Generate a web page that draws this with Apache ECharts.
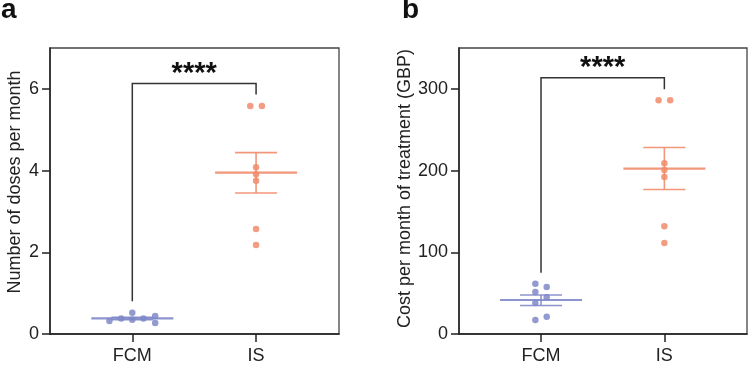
<!DOCTYPE html>
<html>
<head>
<meta charset="utf-8">
<script src="https://cdn.jsdelivr.net/npm/echarts@6/dist/echarts.min.js"></script>
<style>
  html, body { margin: 0; padding: 0; background: #fff; }
  #main { width: 749px; height: 365px; }
</style>
</head>
<body>
<div id="main"></div>
<script>
// groups on the x axis (FCM at 1, IS at 2)
var groups = ['FCM', 'IS'];
var groupColors = ['#7f88c8', '#f08c6c'];

// a: number of doses per month (x = group position incl. jitter)
var dosesFcmX = [0.815, 0.91, 1.0, 1.0, 1.09, 1.185, 1.185];
var dosesFcm  = [0.32, 0.38, 0.52, 0.35, 0.38, 0.44, 0.27];
var dosesIsX  = [1.953, 2.047, 2.0, 2.0, 2.0, 2.0, 2.0];
var dosesIs   = [5.58, 5.58, 4.08, 3.91, 3.75, 2.57, 2.18];
// mean, lower and upper SEM
var dosesMean = [0.38, 3.95];
var dosesLow  = [0.35, 3.45];
var dosesHigh = [0.41, 4.44];

// b: cost per month of treatment (GBP)
var costFcmX = [0.954, 1.046, 0.954, 1.046, 0.954, 0.954, 1.046];
var costFcm  = [61.5, 57.4, 51.3, 44.9, 38, 17, 21];
var costIsX  = [1.953, 2.047, 2.0, 2.0, 2.0, 2.0, 2.0];
var costIs   = [286, 286, 209, 200.6, 192, 132, 111.3];
var costMean = [41.6, 202.4];
var costLow  = [34.8, 176.8];
var costHigh = [47.7, 228.2];

// significance brackets: [x1, x2, top, left end, right end]
var bracketA = [1, 2, 6.13, 0.8, 5.86];
var bracketB = [1, 2, 313.5, 75, 299.4];
var sigText = '****';

var doseTicks = [0, 2, 4, 6];
var costTicks = [0, 100, 200, 300];

var font = "'Liberation Sans', Arial, sans-serif";
var ink = '#222';

function pairs(xs, ys) {
    return ys.map(function (y, i) { return [xs[i], y]; });
}

function statRows(mean, low, high) {
    return mean.map(function (m, i) { return [i + 1, m, low[i], high[i]]; });
}

function renderMeanSem(params, api) {
    var x = api.value(0);
    var c = api.coord([x, api.value(1)]);
    var lo = api.coord([x, api.value(2)]);
    var hi = api.coord([x, api.value(3)]);
    var col = groupColors[params.dataIndex];
    var thin = { stroke: col, lineWidth: 1.6, opacity: 0.9 };
    return {
        type: 'group',
        children: [
            { type: 'line', shape: { x1: c[0], y1: lo[1], x2: c[0], y2: hi[1] }, style: thin },
            { type: 'line', shape: { x1: c[0] - 21, y1: lo[1], x2: c[0] + 21, y2: lo[1] }, style: thin },
            { type: 'line', shape: { x1: c[0] - 21, y1: hi[1], x2: c[0] + 21, y2: hi[1] }, style: thin },
            { type: 'line', shape: { x1: c[0] - 41, y1: c[1], x2: c[0] + 41, y2: c[1] },
              style: { stroke: col, lineWidth: 2.2, opacity: 0.9 } }
        ]
    };
}

function renderBracket(params, api) {
    var top1 = api.coord([api.value(0), api.value(2)]);
    var top2 = api.coord([api.value(1), api.value(2)]);
    var end1 = api.coord([api.value(0), api.value(3)]);
    var end2 = api.coord([api.value(1), api.value(4)]);
    return {
        type: 'group',
        children: [
            { type: 'polyline',
              shape: { points: [end1, top1, top2, end2] },
              style: { stroke: '#333', lineWidth: 1.5, fill: null } },
            { type: 'text',
              style: { x: (top1[0] + top2[0]) / 2, y: top1[1] + 5, text: sigText,
                       fill: '#111', font: 'bold 29px ' + font,
                       textAlign: 'center', textVerticalAlign: 'bottom' } }
        ]
    };
}

function yAxis(gridIndex, max, interval, ticks, name, gap, shift) {
    return {
        type: 'value', gridIndex: gridIndex, min: 0, max: max, interval: interval,
        name: name, nameLocation: 'middle', nameGap: gap,
        nameTextStyle: { fontFamily: font, fontSize: 18, color: ink, padding: [0, 0, 0, shift] },
        axisLine: { show: true, lineStyle: { color: ink, width: 1.5 } },
        axisTick: { show: true, length: 8, customValues: ticks, lineStyle: { color: ink, width: 1.5 } },
        axisLabel: { customValues: ticks, margin: 11, fontFamily: font, fontSize: 18, color: ink },
        splitLine: { show: false }
    };
}

function xAxis(gridIndex) {
    return {
        type: 'value', gridIndex: gridIndex, min: 0.335, max: 2.67,
        axisLine: { show: true, onZero: false, lineStyle: { color: ink, width: 1.5 } },
        axisTick: { show: true, length: 8, customValues: [1, 2], lineStyle: { color: ink, width: 1.5 } },
        axisLabel: {
            customValues: [1, 2], margin: 13, fontFamily: font, fontSize: 18, color: ink,
            formatter: function (v) { return groups[Math.round(v) - 1]; }
        },
        splitLine: { show: false }
    };
}

function dots(idx, xs, ys, color) {
    return {
        type: 'scatter', xAxisIndex: idx, yAxisIndex: idx,
        data: pairs(xs, ys), symbolSize: 6.5,
        itemStyle: { color: color, opacity: 0.85 }, z: 3
    };
}

var myChart = echarts.init(document.getElementById('main'));

var option = {
    animation: false,
    backgroundColor: '#fff',
    grid: [
        { left: 50, top: 48, width: 289, height: 288, show: true, borderColor: '#444', borderWidth: 1.3 },
        { left: 459, top: 48, width: 288, height: 288, show: true, borderColor: '#444', borderWidth: 1.3 }
    ],
    xAxis: [xAxis(0), xAxis(1)],
    yAxis: [
        yAxis(0, 7, 2, doseTicks, 'Number of doses per month', 26, 18),
        yAxis(1, 350, 100, costTicks, 'Cost per month of treatment (GBP)', 45, 5)
    ],
    graphic: [
        { type: 'text', left: 1, top: -4, style: { text: 'a', font: 'bold 28px ' + font, fill: '#111' } },
        { type: 'text', left: 402, top: -4, style: { text: 'b', font: 'bold 28px ' + font, fill: '#111' } }
    ],
    series: [
        dots(0, dosesFcmX, dosesFcm, groupColors[0]),
        dots(0, dosesIsX, dosesIs, groupColors[1]),
        { type: 'custom', xAxisIndex: 0, yAxisIndex: 0, renderItem: renderMeanSem,
          data: statRows(dosesMean, dosesLow, dosesHigh), z: 2 },
        { type: 'custom', xAxisIndex: 0, yAxisIndex: 0, renderItem: renderBracket, data: [bracketA] },
        dots(1, costFcmX, costFcm, groupColors[0]),
        dots(1, costIsX, costIs, groupColors[1]),
        { type: 'custom', xAxisIndex: 1, yAxisIndex: 1, renderItem: renderMeanSem,
          data: statRows(costMean, costLow, costHigh), z: 2 },
        { type: 'custom', xAxisIndex: 1, yAxisIndex: 1, renderItem: renderBracket, data: [bracketB] }
    ]
};

myChart.setOption(option);
</script>
</body>
</html>
